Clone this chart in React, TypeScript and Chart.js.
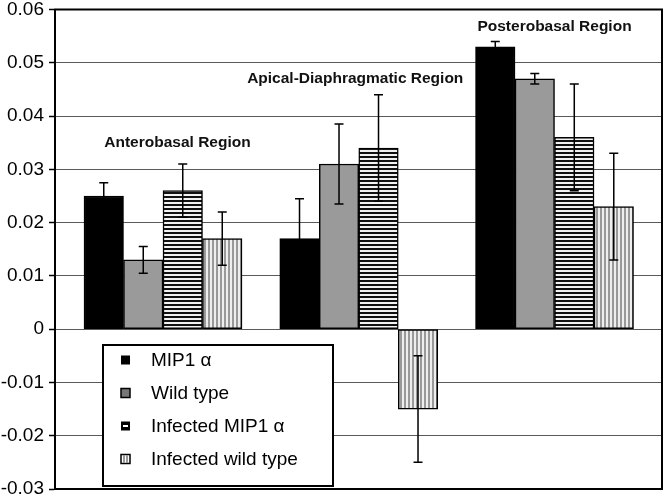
import React, { useEffect, useRef } from "react";
import { Chart, registerables } from "chart.js";

Chart.register(...registerables);

const categories = ["Anterobasal Region", "Apical-Diaphragmatic Region", "Posterobasal Region"];
const seriesNames = ["MIP1 \u03b1", "Wild type", "Infected MIP1 \u03b1", "Infected wild type"];
const mip1 = [0.025, 0.017, 0.053];
const mip1Err = [0.0025, 0.0075, 0.001];
const wildType = [0.013, 0.031, 0.047];
const wildTypeErr = [0.0025, 0.0075, 0.001];
const infMip1 = [0.026, 0.034, 0.036];
const infMip1Err = [0.005, 0.01, 0.01];
const infWild = [0.017, -0.015, 0.023];
const infWildErr = [0.005, 0.01, 0.01];
const yTickLabels = ["-0.03", "-0.02", "-0.01", "0", "0.01", "0.02", "0.03", "0.04", "0.05", "0.06"];
// anchors of the region captions (x in category units, y in data units)
const regionLabelX = [0.074, 0.982, 2.0];
const regionLabelY = [0.035, 0.047, 0.0567];

const FONT = '"Liberation Sans", Arial, Helvetica, sans-serif';

function makePattern(kind: "h" | "v"): CanvasPattern | string {
  const c = document.createElement("canvas");
  c.width = 4;
  c.height = 4;
  const g = c.getContext("2d");
  if (!g) return "#888";
  if (kind === "h") {
    g.fillStyle = "#f2f2f2";
    g.fillRect(0, 0, 4, 4);
    g.fillStyle = "#111";
    g.fillRect(0, 0, 4, 2);
  } else {
    g.fillStyle = "#eeeeee";
    g.fillRect(0, 0, 4, 4);
    g.fillStyle = "#999";
    g.fillRect(0, 0, 2, 4);
  }
  const p = g.createPattern(c, "repeat");
  return p || "#888";
}

export default function App() {
  const ref = useRef<HTMLCanvasElement | null>(null);

  useEffect(() => {
    const canvas = ref.current;
    if (!canvas) return;
    const hPat = makePattern("h");
    const vPat = makePattern("v");
    const values = [mip1, wildType, infMip1, infWild];
    const errs = [mip1Err, wildTypeErr, infMip1Err, infWildErr];
    const fills: any[] = ["#000000", "#9a9a9a", hPat, vPat];

    const overlay = {
      id: "overlay",
      afterDatasetsDraw(chart: any) {
        const ctx = chart.ctx;
        const ys = chart.scales.y;
        const xs = chart.scales.x;
        const area = chart.chartArea;
        // error bars
        ctx.save();
        ctx.strokeStyle = "#000";
        ctx.lineWidth = 1.5;
        values.forEach((vals, d) => {
          const meta = chart.getDatasetMeta(d);
          vals.forEach((v, i) => {
            const bar = meta.data[i];
            if (!bar) return;
            const x = bar.x;
            const y1 = ys.getPixelForValue(v + errs[d][i]);
            const y2 = ys.getPixelForValue(v - errs[d][i]);
            ctx.beginPath();
            ctx.moveTo(x, y1);
            ctx.lineTo(x, y2);
            ctx.moveTo(x - 4.5, y1);
            ctx.lineTo(x + 4.5, y1);
            ctx.moveTo(x - 4.5, y2);
            ctx.lineTo(x + 4.5, y2);
            ctx.stroke();
          });
        });
        ctx.restore();

        // frame
        ctx.save();
        ctx.strokeStyle = "#000";
        ctx.lineWidth = 2;
        ctx.strokeRect(area.left, area.top, area.right - area.left, area.bottom - area.top);
        ctx.restore();

        // region captions
        ctx.save();
        ctx.font = "bold 15.5px " + FONT;
        ctx.fillStyle = "#111";
        ctx.textAlign = "center";
        ctx.textBaseline = "middle";
        categories.forEach((c, i) => {
          ctx.fillText(c, xs.getPixelForValue(regionLabelX[i]), ys.getPixelForValue(regionLabelY[i]));
        });
        ctx.restore();

        // legend
        ctx.save();
        const lx = 103, ly = 345, lw = 230, lh = 141;
        ctx.fillStyle = "#fff";
        ctx.fillRect(lx, ly, lw, lh);
        ctx.strokeStyle = "#000";
        ctx.lineWidth = 2;
        ctx.strokeRect(lx, ly, lw, lh);
        ctx.font = "19px " + FONT;
        ctx.textBaseline = "middle";
        ctx.textAlign = "left";
        seriesNames.forEach((name, i) => {
          const cy = 360 + i * 33;
          const sx = 121, sy = cy - 4.5, s = 9;
          ctx.lineWidth = 1.5;
          ctx.strokeStyle = "#000";
          if (i === 0) {
            ctx.fillStyle = "#000";
            ctx.fillRect(sx, sy, s, s);
          } else if (i === 1) {
            ctx.fillStyle = "#777";
            ctx.fillRect(sx, sy, s, s);
            ctx.strokeRect(sx, sy, s, s);
          } else if (i === 2) {
            ctx.fillStyle = "#000";
            ctx.fillRect(sx, sy, s, s);
            ctx.fillStyle = "#fff";
            ctx.fillRect(sx + 2, sy + 3.5, s - 4, 2);
          } else {
            ctx.fillStyle = "#fff";
            ctx.fillRect(sx, sy, s, s);
            ctx.fillStyle = "#999";
            ctx.fillRect(sx + 2, sy + 1, 2, s - 2);
            ctx.fillRect(sx + 5, sy + 1, 2, s - 2);
            ctx.strokeRect(sx, sy, s, s);
          }
          ctx.fillStyle = "#000";
          ctx.fillText(name, 151, cy + 1);
        });
        ctx.restore();
      },
    };

    const chart = new Chart(canvas, {
      type: "bar",
      data: {
        datasets: values.map((vals, d) => ({
          label: seriesNames[d],
          data: vals.map((v, i) => ({ x: i, y: v })),
          backgroundColor: fills[d],
          borderColor: "#000",
          borderWidth: 1.5,
          borderSkipped: false,
          barThickness: 39.5,
        })),
      },
      options: {
        responsive: false,
        animation: false,
        events: [],
        layout: { padding: { top: 9.5, right: 2, bottom: 11, left: 0 } },
        plugins: { legend: { display: false }, tooltip: { enabled: false } },
        scales: {
          x: {
            type: "linear",
            display: false,
            offset: false,
            bounds: "data",
            min: -0.5517,
            max: 2.549,
            grid: { display: false, offset: false },
          },
          y: {
            type: "linear",
            min: -0.03,
            max: 0.06,
            afterFit: (scale: any) => {
              scale.width = 55;
              scale.paddingTop = 0;
              scale.paddingBottom = 0;
            },
            ticks: {
              stepSize: 0.01,
              color: "#000",
              padding: 5,
              font: { family: FONT, size: 19, lineHeight: 1 },
              callback: (value: any) => {
                const idx = Math.round((Number(value) + 0.03) * 100);
                return yTickLabels[idx] ?? "";
              },
            },
            grid: {
              color: "#5a5a5a",
              lineWidth: 1,
              tickColor: "#000",
              tickLength: 6,
              tickWidth: 1.5,
            },
            border: { display: true, color: "#000", width: 2 },
          },
        },
      },
      plugins: [overlay],
    } as any);

    return () => chart.destroy();
  }, []);

  return (
    <div style={{ position: "fixed", left: 0, top: 0, width: 664, height: 500, background: "#fff" }}>
      <canvas ref={ref} width={664} height={500} style={{ display: "block" }} />
    </div>
  );
}
